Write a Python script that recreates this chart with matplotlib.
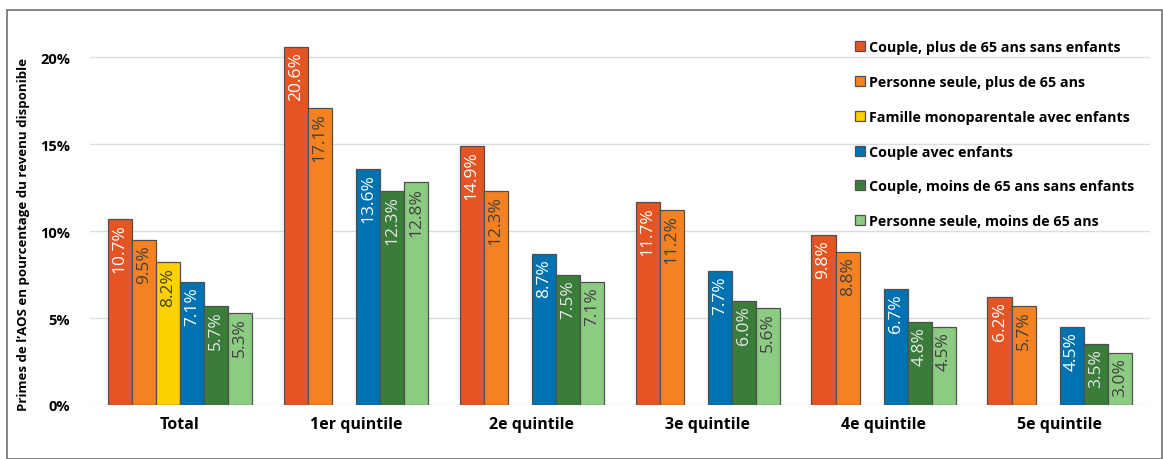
import numpy as np
import matplotlib.pyplot as plt
from matplotlib.patches import Rectangle

plt.rcParams['font.family'] = ['Open Sans', 'DejaVu Sans']

# ///---- donnees ----///
groupes = ['Total', '1er quintile', '2e quintile', '3e quintile', '4e quintile', '5e quintile']
series = ['Couple, plus de 65 ans sans enfants',
          'Personne seule, plus de 65 ans',
          'Famille monoparentale avec enfants',
          'Couple avec enfants',
          'Couple, moins de 65 ans sans enfants',
          'Personne seule, moins de 65 ans']
couple_65plus = [10.7, 20.6, 14.9, 11.7, 9.8, 6.2]
seule_65plus = [9.5, 17.1, 12.3, 11.2, 8.8, 5.7]
monoparentale = [8.2, np.nan, np.nan, np.nan, np.nan, np.nan]
couple_enfants = [7.1, 13.6, 8.7, 7.7, 6.7, 4.5]
couple_65moins = [5.7, 12.3, 7.5, 6.0, 4.8, 3.5]
seule_65moins = [5.3, 12.8, 7.1, 5.6, 4.5, 3.0]
valeurs = [couple_65plus, seule_65plus, monoparentale, couple_enfants, couple_65moins, seule_65moins]

couleurs = ['#e55423', '#f58220', '#fdd000', '#0072b1', '#3a7d3b', '#8ccb82']
couleurs_txt = ['white', '#404040', '#404040', 'white', '#e6e6e6', '#404040']

# ///---- figure ----///
fig = plt.figure(figsize=(11.63, 4.60), dpi=100)
ax = fig.add_axes([0.077, 0.1174, 0.912, 0.8126])
fig.patches.append(Rectangle((0.006, 0.0), 0.993, 0.976, transform=fig.transFigure,
                             fill=False, edgecolor='#707070', linewidth=1.2))

x = np.arange(len(groupes))
larg = 0.137
for i, (nom, vals) in enumerate(zip(series, valeurs)):
    pos = x + (i - 2.5) * larg
    ax.bar(pos, vals, width=larg, color=couleurs[i], edgecolor='#505050',
           linewidth=0.9, label=nom, zorder=3)
    for xp, v in zip(pos, vals):
        if np.isnan(v):
            continue
        ax.text(xp, v - 0.25, f'{v:.1f}%', rotation=90, ha='center', va='top',
                fontsize=12.5, color=couleurs_txt[i], zorder=4)

ax.set_xlim(-0.514, 5.514)
ax.set_ylim(0, 21.5)
ax.set_yticks([0, 5, 10, 15, 20])
ax.set_yticklabels([f'{t}%' for t in [0, 5, 10, 15, 20]], fontsize=10.5, fontweight='bold')
ax.set_xticks(x)
ax.set_xticklabels(groupes, fontsize=11.5, fontweight='bold')
ax.tick_params(length=0, pad=8)
ax.tick_params(axis='y', pad=14)
ax.grid(axis='y', color='#dcdcdc', linewidth=1, zorder=0)
for s in ax.spines.values():
    s.set_visible(False)
ax.set_ylabel("Primes de l’AOS en pourcentage du revenu disponible",
              fontsize=9.5, fontweight='bold')
ax.yaxis.set_label_coords(-0.056, 0.46)

leg = ax.legend(loc='upper right', bbox_to_anchor=(0.997, 1.01), frameon=False,
                handlelength=0.7, handleheight=0.7, handletextpad=0.3,
                labelspacing=1.45, prop={'weight': 'bold', 'size': 10.3})

fig.savefig('out.png', dpi=100)
